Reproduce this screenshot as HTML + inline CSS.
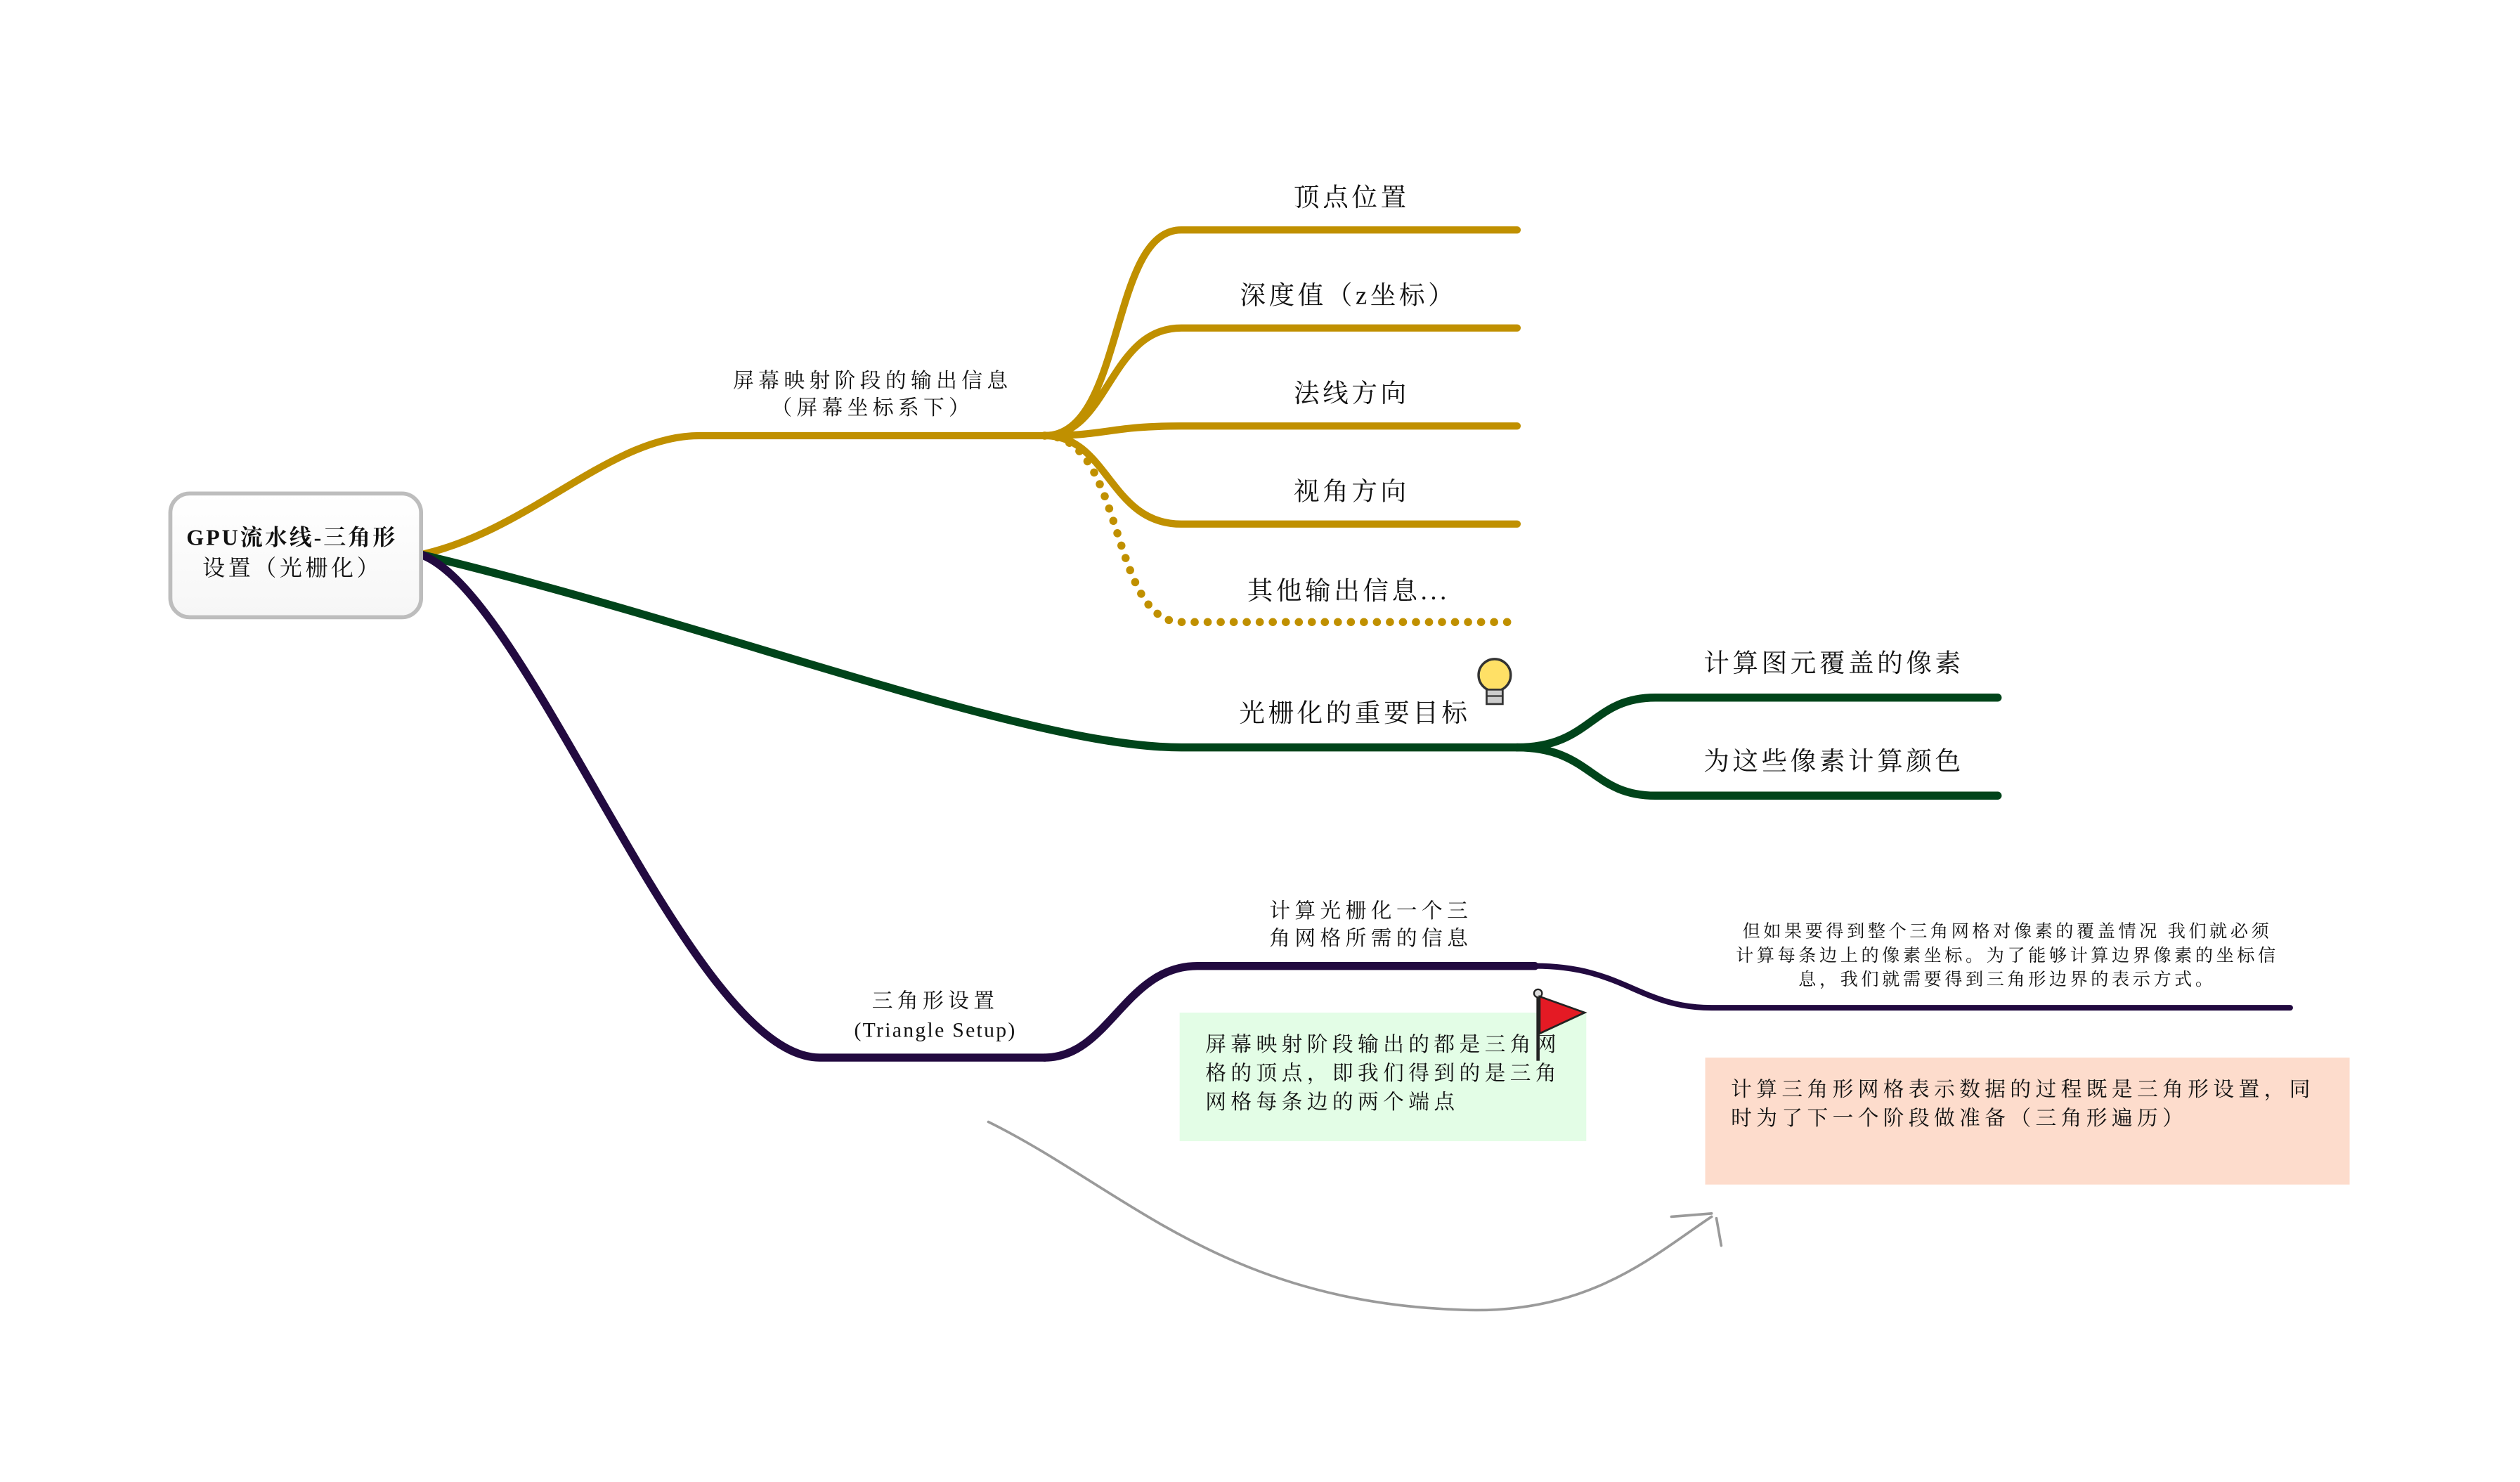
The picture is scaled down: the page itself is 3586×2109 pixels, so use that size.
<!DOCTYPE html>
<html><head><meta charset="utf-8"><style>
html,body{margin:0;padding:0;background:#fff;}
svg{display:block;}
text{font-family:"Liberation Serif","Noto Serif CJK SC",serif;fill:#111;}
.s13{font-size:13px;letter-spacing:2.8px;}
.s16{font-size:16px;letter-spacing:2px;}
.s11{font-size:11px;letter-spacing:2px;}
</style></head><body>
<svg width="3586" height="2109" viewBox="0 0 1568 922" xmlns="http://www.w3.org/2000/svg">
<defs>
<linearGradient id="rg" x1="0" y1="0" x2="0" y2="1">
<stop offset="0" stop-color="#ffffff"/><stop offset="1" stop-color="#f6f6f6"/>
</linearGradient>
</defs>
<g fill="none" stroke="#c09000" stroke-width="4.5" stroke-linecap="round">
<path d="M262,345 C330,330 380,271 435,271 L650,271"/>
<path d="M650,271 C700,271 690,143 735,143 L944,143"/>
<path d="M650,271 C690,271 690,204 735,204 L944,204"/>
<path d="M650,271 C690,271 690,265 735,265 L944,265"/>
<path d="M650,271 C690,271 690,326 735,326 L944,326"/>
<path d="M650,271 C700,271 690,387 735,387 L944,387" stroke-dasharray="0.1 8" stroke-width="5"/>
</g>
<g fill="none" stroke="#00441a" stroke-width="5" stroke-linecap="round">
<path d="M262,345 C450,390 640,465 735,465 L944,465"/>
<path d="M944,465 C990,465 990,434 1030,434 L1243,434"/>
<path d="M944,465 C990,465 990,495 1030,495 L1243,495"/>
</g>
<g fill="none" stroke="#220a40" stroke-width="5" stroke-linecap="round">
<path d="M262,345 C330,370 430,658 510,658 L650,658"/>
<path d="M650,658 C690,658 700,601 745,601 L955,601"/>
<path d="M955,601 C1010,601 1020,627 1065,627 L1425,627" stroke-width="3.5"/>
</g>
<rect x="106" y="307" width="156" height="77" rx="12" fill="url(#rg)" stroke="#bdbdbd" stroke-width="2.5"/>
<text x="116" y="339" font-size="14" font-weight="bold" letter-spacing="1.3">GPU流水线-三角形</text>
<text x="126" y="358" font-size="14" letter-spacing="2">设置（光栅化）</text>
<text x="543" y="241" class="s13" text-anchor="middle">屏幕映射阶段的输出信息</text>
<text x="543" y="258" class="s13" text-anchor="middle">（屏幕坐标系下）</text>
<text x="841" y="128" class="s16" text-anchor="middle">顶点位置</text>
<text x="839" y="189" class="s16" text-anchor="middle">深度值（z坐标）</text>
<text x="841" y="250" class="s16" text-anchor="middle">法线方向</text>
<text x="841" y="311" class="s16" text-anchor="middle">视角方向</text>
<text x="839" y="373" class="s16" text-anchor="middle">其他输出信息...</text>
<text x="843" y="449" class="s16" text-anchor="middle">光栅化的重要目标</text>
<text x="1141" y="418" class="s16" text-anchor="middle">计算图元覆盖的像素</text>
<text x="1141" y="479" class="s16" text-anchor="middle">为这些像素计算颜色</text>
<g>
<circle cx="930" cy="420" r="10" fill="#ffe066" stroke="#333" stroke-width="1.5"/>
<rect x="925" y="429" width="10" height="9" fill="#ccc" stroke="#333" stroke-width="1.2"/>
<line x1="925" y1="433" x2="935" y2="433" stroke="#333" stroke-width="1"/>
</g>
<text x="582" y="627" class="s13" text-anchor="middle">三角形设置</text>
<text x="582" y="645" font-size="13" letter-spacing="1" text-anchor="middle">(Triangle Setup)</text>
<text x="853" y="571" class="s13" text-anchor="middle">计算光栅化一个三</text>
<text x="853" y="588" class="s13" text-anchor="middle">角网格所需的信息</text>
<text x="1249" y="583" class="s11" text-anchor="middle">但如果要得到整个三角网格对像素的覆盖情况 我们就必须</text>
<text x="1249" y="598" class="s11" text-anchor="middle">计算每条边上的像素坐标。为了能够计算边界像素的坐标信</text>
<text x="1249" y="613" class="s11" text-anchor="middle">息，我们就需要得到三角形边界的表示方式。</text>
<rect x="734" y="630" width="253" height="80" fill="#e3fde6"/>
<text x="750" y="654" class="s13">屏幕映射阶段输出的都是三角网</text>
<text x="750" y="672" class="s13">格的顶点，即我们得到的是三角</text>
<text x="750" y="690" class="s13">网格每条边的两个端点</text>
<rect x="1061" y="658" width="401" height="79" fill="#fddccc"/>
<text x="1077" y="682" class="s13">计算三角形网格表示数据的过程既是三角形设置，同</text>
<text x="1077" y="700" class="s13">时为了下一个阶段做准备（三角形遍历）</text>
<line x1="957" y1="618" x2="957" y2="660" stroke="#222" stroke-width="2"/>
<circle cx="957" cy="618" r="2.5" fill="#ddd" stroke="#222" stroke-width="1"/>
<path d="M958,620 L986,630 L958,643 Z" fill="#e41a24" stroke="#222" stroke-width="1.2"/>
<g fill="none" stroke="#9a9a9a" stroke-width="1.6" stroke-linecap="round">
<path d="M615,698 C700,740 760,810 910,815 C990,818 1030,780 1065,757"/>
<path d="M1040,757 L1065,755"/>
<path d="M1068,758 L1071,775"/>
</g>
</svg>
</body></html>
